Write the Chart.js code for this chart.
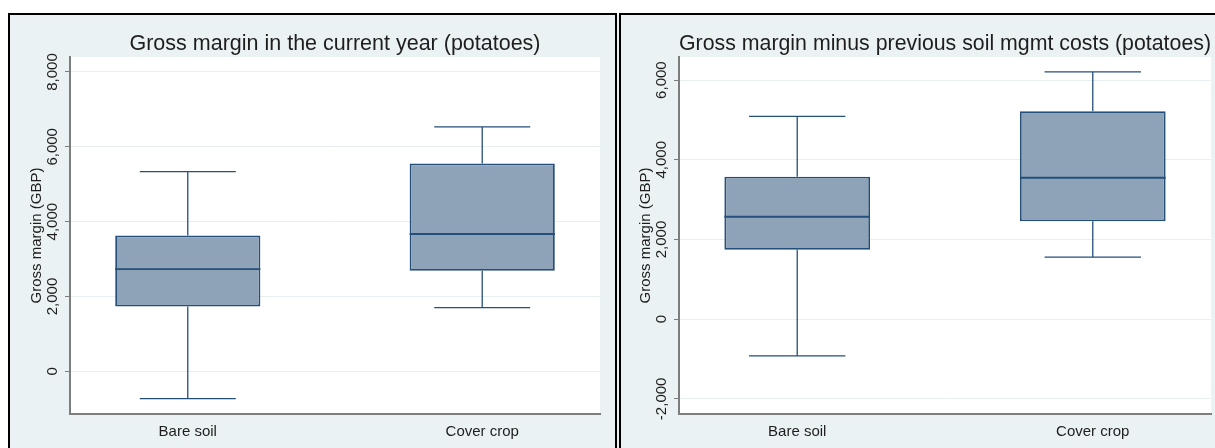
<!DOCTYPE html>
<html>
<head>
<meta charset="utf-8">
<title>Gross margin (potatoes)</title>
<script src="https://cdn.jsdelivr.net/npm/chart.js@4/dist/chart.umd.min.js"></script>
<style>
  html, body { margin: 0; padding: 0; background: #ffffff; }
  body { width: 1215px; height: 448px; position: relative; overflow: hidden; }
  .panel { position: absolute; top: 13px; background: #eaf2f3; box-sizing: border-box;
           border-top: 2px solid #000; border-left: 2px solid #000; }
  #p1 { left: 8px; width: 609px; height: 440px; border-right: 2px solid #000; }
  #p2 { left: 619px; width: 610px; height: 440px; }
  #gap { position: absolute; left: 617px; top: 15px; width: 2px; height: 440px; background: #eaf2f3; }
  canvas { position: absolute; top: 15px; }
  #c1 { left: 10px; }
  #c2 { left: 621px; }
</style>
</head>
<body>
<div class="panel" id="p1"></div>
<div id="gap"></div>
<div class="panel" id="p2"></div>
<canvas id="c1" width="605" height="433"></canvas>
<canvas id="c2" width="594" height="433"></canvas>
<script>
// Group labels and the five-number summary of each group:
// [lower whisker, lower quartile, median, upper quartile, upper whisker]
const categories = ['Bare soil', 'Cover crop'];

const currentYearBare  = [-730, 1735, 2730, 3630, 5335];
const currentYearCover = [1705, 2685, 3670, 5555, 6535];

const netBare  = [-920, 1740, 2570, 3575, 5090];
const netCover = [1555, 2455, 3550, 5220, 6205];

const currentYearTicks = [0, 2000, 4000, 6000, 8000];
const netTicks = [-2000, 0, 2000, 4000, 6000];

const currentYearTitle = 'Gross margin in the current year (potatoes)';
const netTitle = 'Gross margin minus previous soil mgmt costs (potatoes)';
const yTitle = 'Gross margin (GBP)';

// Styling
const FONT = '"Liberation Sans", Arial, Helvetica, sans-serif';
const NAVY = '#244f7a';
const BOX_FILL = '#8ea3b8';
const AXIS = '#7d7d7d';
const GRID = '#e8eff0';
const TEXT = '#1e1e1e';
const BOX_HALF = 0.2465;   // half box width, in category units
const CAP_HALF = 0.163;    // half whisker-cap width, in category units
const TICK_LEN = 5;

Chart.defaults.font.family = FONT;
Chart.defaults.animation = false;

function whiskerPoints(groups) {
  const pts = [];
  groups.forEach((s, i) => {
    const x = i + 1;
    const [lo, q1, , q3, hi] = s;
    pts.push({x: x, y: q3}, {x: x, y: hi}, {x: x, y: null});
    pts.push({x: x - CAP_HALF, y: hi}, {x: x + CAP_HALF, y: hi}, {x: x, y: null});
    pts.push({x: x, y: q1}, {x: x, y: lo}, {x: x, y: null});
    pts.push({x: x - CAP_HALF, y: lo}, {x: x + CAP_HALF, y: lo}, {x: x, y: null});
  });
  return pts;
}

function medianPoints(groups) {
  const pts = [];
  groups.forEach((s, i) => {
    const x = i + 1;
    pts.push({x: x - BOX_HALF, y: s[2]}, {x: x + BOX_HALF, y: s[2]}, {x: x, y: null});
  });
  return pts;
}

function textWidth(str, size) {
  const ctx = document.createElement('canvas').getContext('2d');
  ctx.font = size + 'px ' + FONT;
  return ctx.measureText(str).width;
}

const plotBackground = {
  id: 'plotBackground',
  beforeDraw(chart) {
    const {ctx, chartArea: a} = chart;
    ctx.save();
    ctx.fillStyle = '#ffffff';
    ctx.fillRect(a.left, a.top, a.right - a.left, a.bottom - a.top);
    ctx.restore();
  }
};

function boxChart(id, title, groups, ticks, yMin, yMax, yWidth, yTitleX, rightPad) {
  const tickFmt = v => v.toLocaleString('en-US');
  const widest = Math.max(...ticks.map(v => textWidth(tickFmt(v), 15)));
  const labelPad = 17.5 - TICK_LEN - widest / 2;

  return new Chart(document.getElementById(id), {
    type: 'bar',
    data: {
      datasets: [
        {
          type: 'line',
          data: medianPoints(groups),
          borderColor: NAVY,
          borderWidth: 1.8,
          pointRadius: 0,
          spanGaps: false,
          fill: false,
          order: 0
        },
        {
          type: 'line',
          data: whiskerPoints(groups),
          borderColor: NAVY,
          borderWidth: 1.3,
          pointRadius: 0,
          spanGaps: false,
          fill: false,
          order: 0
        },
        {
          type: 'bar',
          data: groups.map((s, i) => ({x: i + 1, y: [s[1], s[3]]})),
          backgroundColor: BOX_FILL,
          borderColor: NAVY,
          borderWidth: 1.8,
          borderSkipped: false,
          categoryPercentage: 1,
          barPercentage: BOX_HALF * 2,
          order: 1
        }
      ]
    },
    options: {
      responsive: false,
      animation: false,
      events: [],
      layout: { padding: { left: 0, right: rightPad, top: 0, bottom: 0 } },
      plugins: {
        legend: { display: false },
        tooltip: { enabled: false },
        title: {
          display: true,
          text: title,
          fullSize: false,
          color: TEXT,
          font: { size: 21.5, weight: 'normal', family: FONT },
          padding: { top: 16.2, bottom: 0 }
        }
      },
      scales: {
        x: {
          type: 'linear',
          min: 0.6,
          max: 2.4,
          offset: false,
          afterBuildTicks: s => { s.ticks = categories.map((c, i) => ({value: i + 1})); },
          afterFit: s => { s.height = 34; },
          grid: { display: false },
          border: { display: true, color: AXIS, width: 2 },
          ticks: {
            autoSkip: false,
            maxRotation: 0,
            padding: 1,
            color: TEXT,
            font: { size: 15 },
            callback: v => categories[v - 1]
          }
        },
        y: {
          type: 'linear',
          min: yMin,
          max: yMax,
          afterBuildTicks: s => { s.ticks = ticks.map(v => ({value: v})); },
          afterFit: s => { s.width = yWidth; },
          grid: { color: GRID, lineWidth: 1, tickColor: AXIS, tickLength: TICK_LEN, tickWidth: 1 },
          border: { display: true, color: AXIS, width: 2 },
          ticks: {
            minRotation: 90,
            maxRotation: 90,
            crossAlign: 'center',
            padding: labelPad,
            color: TEXT,
            font: { size: 15 },
            callback: tickFmt
          },
          title: {
            display: true,
            text: yTitle,
            color: TEXT,
            font: { size: 15 },
            padding: { top: yTitleX - 9, bottom: 0 }
          }
        }
      }
    },
    plugins: [plotBackground]
  });
}

boxChart('c1', currentYearTitle, [currentYearBare, currentYearCover],
         currentYearTicks, -1140, 8400, 60, 27, 15);
boxChart('c2', netTitle, [netBare, netCover],
         netTicks, -2380, 6580, 58, 25, 4);
</script>
</body>
</html>
